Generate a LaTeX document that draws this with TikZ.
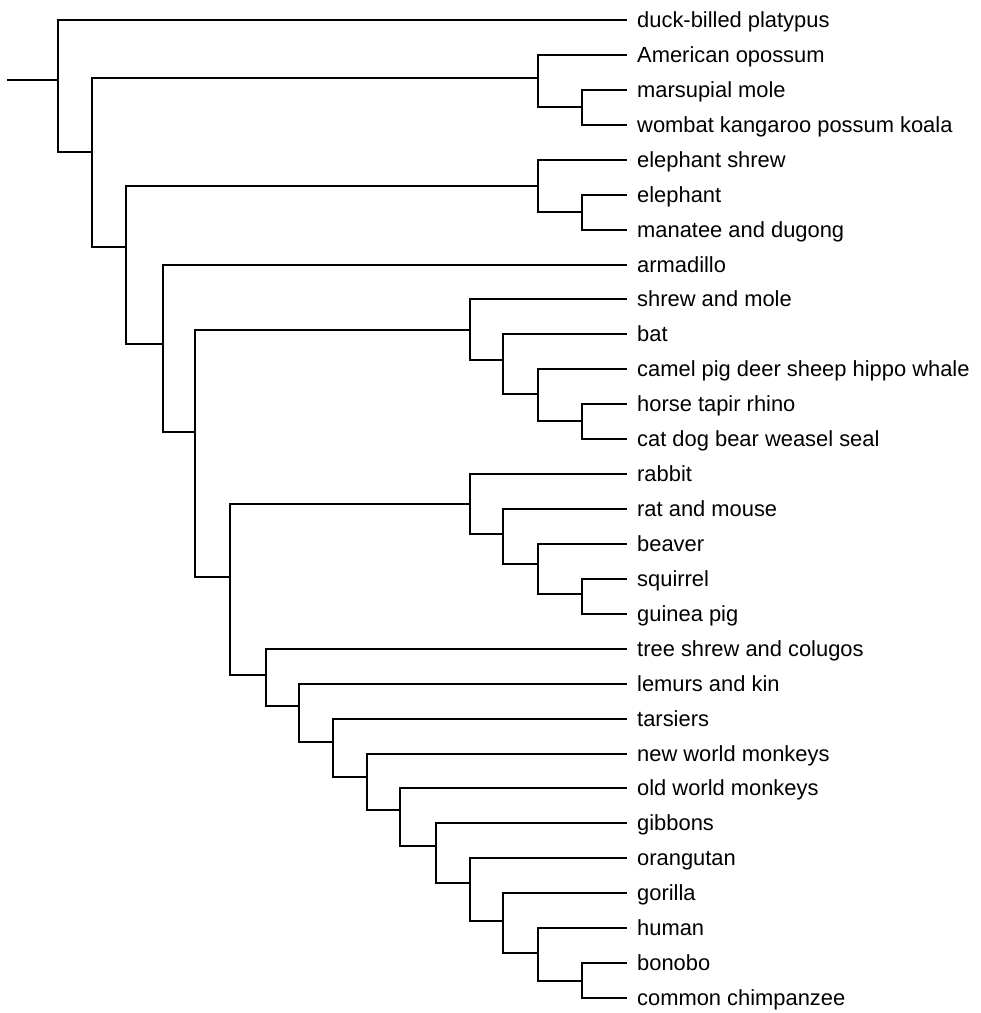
\documentclass[tikz,border=0pt]{standalone}
\usepackage{fontspec}
\setmainfont{Liberation Sans}
\usetikzlibrary{positioning}

\tikzset{
	branch/.style={line width=2pt},
	taxon/.style={anchor=base west, inner sep=0pt, font=\fontsize{21.9}{26}\selectfont},
}

\begin{document}
\begin{tikzpicture}[x=1pt, y=-1pt]
	\useasboundingbox (0,0) rectangle (981,1013);
	
	%//leaf tips and names
	\foreach \i/\txt in {0/duck-billed platypus, 1/American opossum, 2/marsupial mole, 3/wombat kangaroo possum koala, 4/elephant shrew, 5/elephant, 6/manatee and dugong, 7/armadillo, 8/shrew and mole, 9/bat, 10/camel pig deer sheep hippo whale, 11/horse tapir rhino, 12/cat dog bear weasel seal, 13/rabbit, 14/rat and mouse, 15/beaver, 16/squirrel, 17/guinea pig, 18/tree shrew and colugos, 19/lemurs and kin, 20/tarsiers, 21/new world monkeys, 22/old world monkeys, 23/gibbons, 24/orangutan, 25/gorilla, 26/human, 27/bonobo, 28/common chimpanzee}
	{
		\coordinate (t\i) at (627, 20+34.93*\i);
		\node [taxon] (name\i) at (637, 27.5+34.93*\i) {\txt};
	}
	
	%//inner nodes
	\coordinate (base) at (7, 80);
	\coordinate (root) at (58, 80);
	\coordinate (bb1) at (91.5, 152);
	\coordinate (bb2) at (126, 247);
	\coordinate (bb3) at (163, 344);
	\coordinate (bb4) at (195, 432);
	\coordinate (bb5) at (230, 577);
	
	\coordinate (mars1) at (538, 78);
	\coordinate (mars2) at (582, 107);
	\coordinate (afro1) at (538, 186);
	\coordinate (afro2) at (582, 212);
	
	\coordinate (laur1) at (470, 330);
	\coordinate (laur2) at (503, 360);
	\coordinate (laur3) at (538, 394);
	\coordinate (laur4) at (582, 421);
	
	\coordinate (glir1) at (470, 504);
	\coordinate (glir2) at (503, 534);
	\coordinate (glir3) at (538, 564);
	\coordinate (glir4) at (582, 594);
	
	\foreach \x/\y [count=\k from 0] in {266/675, 299/706, 333/742, 367/777, 400/810, 436/846, 470/883, 503/921, 538/953, 582/981}
	\coordinate (prim\k) at (\x, \y);
	
	%//branches
	\draw [branch] (base) -- (root);
	\foreach \p/\c in {root/t0, root/bb1, bb1/mars1, bb1/bb2, mars1/t1, mars1/mars2, mars2/t2, mars2/t3,
		bb2/afro1, bb2/bb3, afro1/t4, afro1/afro2, afro2/t5, afro2/t6,
		bb3/t7, bb3/bb4, bb4/laur1, bb4/bb5,
		laur1/t8, laur1/laur2, laur2/t9, laur2/laur3, laur3/t10, laur3/laur4, laur4/t11, laur4/t12,
		bb5/glir1, bb5/prim0,
		glir1/t13, glir1/glir2, glir2/t14, glir2/glir3, glir3/t15, glir3/glir4, glir4/t16, glir4/t17}
	\draw [branch] (\p) |- (\c);
	
	\foreach \k [evaluate=\k as \leaf using int(\k+18), evaluate=\k as \next using int(\k+1)] in {0,...,8}
	{
		\draw [branch] (prim\k) |- (t\leaf);
		\draw [branch] (prim\k) |- (prim\next);
	}
	\draw [branch] (prim9) |- (t27);
	\draw [branch] (prim9) |- (t28);
\end{tikzpicture}
\end{document}
